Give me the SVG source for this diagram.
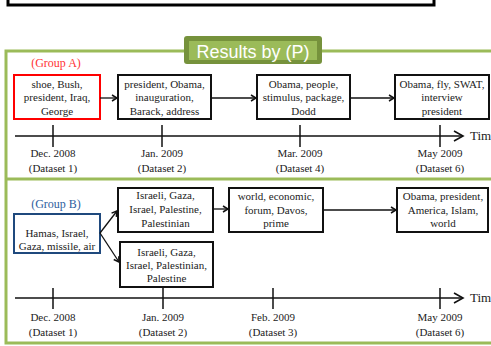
<svg xmlns="http://www.w3.org/2000/svg" width="491" height="346" viewBox="0 0 491 346">
<style>
text{font-family:"Liberation Serif","DejaVu Serif","Times New Roman",serif}
.t{font-size:11px;fill:#222;text-anchor:middle}
.box{fill:#fff;stroke:#111;stroke-width:2}
.ln{stroke:#111;stroke-width:1.3;fill:none}
.ax{stroke:#111;stroke-width:1.5;fill:none}
.tk{stroke:#111;stroke-width:1.5}
.ttl{font-family:"Liberation Sans",Arial,sans-serif;font-size:18px;fill:#fff;text-anchor:middle}
</style>
<defs>
<marker id="ah" markerWidth="8" markerHeight="8" refX="6" refY="4" orient="auto" markerUnits="userSpaceOnUse">
<path d="M1,1 L6,4 L1,7" fill="none" stroke="#111" stroke-width="1.5"/>
</marker>
<marker id="tah" markerWidth="14" markerHeight="14" refX="11" refY="7" orient="auto" markerUnits="userSpaceOnUse">
<path d="M2,2 L11,7 L2,12" fill="none" stroke="#111" stroke-width="1.6"/>
</marker>
</defs>
<rect width="491" height="346" fill="#fff"/>
<rect x="8" y="-10" width="426" height="15" fill="#fff" stroke="#000" stroke-width="3"/>
<g id="frame">
<rect x="6" y="51" width="500" height="292" fill="none" stroke="#9BBB59" stroke-width="3"/>
<line x1="6" y1="179" x2="491" y2="179" stroke="#9BBB59" stroke-width="3"/>
</g>
<g id="title">
<rect x="184" y="36" width="138" height="28" rx="3" fill="#76923C"/>
<rect x="189" y="41" width="128" height="19" fill="#9BBB59"/>
<text x="253" y="58" class="ttl">Results by (P)</text>
</g>
<g id="groupA-label"><text x="56" y="67" class="t" font-family="Liberation Serif, serif" style="font-size:12px;fill:#FF3333">(Group A)</text></g>
<g id="groupB-label"><text x="56" y="208" class="t" font-family="Liberation Serif, serif" style="font-size:12px;fill:#2E5E9E">(Group B)</text></g>
<g id="A1"><rect x="14" y="75" width="86" height="44" fill="#fff" stroke="#FF0000" stroke-width="2"/>
<text class="t" x="57" y="88">shoe, Bush,</text><text class="t" x="57" y="101">president, Iraq,</text><text class="t" x="57" y="115">George</text></g>
<g id="A2"><rect class="box" x="118" y="75" width="93" height="44"/>
<text class="t" x="164.5" y="88">president, Obama,</text><text class="t" x="164.5" y="101">inauguration,</text><text class="t" x="164.5" y="115">Barack, address</text></g>
<g id="A3"><rect class="box" x="257" y="75" width="93" height="44"/>
<text class="t" x="303.5" y="88">Obama, people,</text><text class="t" x="303.5" y="101">stimulus, package,</text><text class="t" x="303.5" y="115">Dodd</text></g>
<g id="A4"><rect class="box" x="395" y="75" width="94" height="44"/>
<text class="t" x="442" y="88">Obama, fly, SWAT,</text><text class="t" x="442" y="101">interview</text><text class="t" x="442" y="115">president</text></g>
<g id="B1"><rect x="14" y="214" width="86" height="39" fill="#fff" stroke="#1F497D" stroke-width="2"/>
<text class="t" x="57" y="237">Hamas, Israel,</text><text class="t" x="57" y="250">Gaza, missile, air</text></g>
<g id="B2"><rect class="box" x="118" y="188" width="95" height="44"/>
<text class="t" x="165.5" y="199">Israeli, Gaza,</text><text class="t" x="165.5" y="213">Israel, Palestine,</text><text class="t" x="165.5" y="227">Palestinian</text></g>
<g id="B3"><rect class="box" x="229" y="188" width="94" height="44"/>
<text class="t" x="276" y="200">world, economic,</text><text class="t" x="276" y="214">forum, Davos,</text><text class="t" x="276" y="227">prime</text></g>
<g id="B4"><rect class="box" x="397" y="188" width="91" height="44"/>
<text class="t" x="443" y="200">Obama, president,</text><text class="t" x="443" y="214">America, Islam,</text><text class="t" x="443" y="227">world</text></g>
<g id="B5"><rect class="box" x="120" y="242" width="93" height="45"/>
<text class="t" x="166.5" y="256">Israeli, Gaza,</text><text class="t" x="166.5" y="269">Israel, Palestinian,</text><text class="t" x="166.5" y="282">Palestine</text></g>
<g id="connectors">
<line class="ln" x1="100" y1="98" x2="117" y2="98" marker-end="url(#ah)"/>
<line class="ln" x1="211" y1="98" x2="256" y2="98" marker-end="url(#ah)"/>
<line class="ln" x1="350" y1="98" x2="394" y2="98" marker-end="url(#ah)"/>
<line class="ln" x1="100" y1="233" x2="117" y2="211" marker-end="url(#ah)"/>
<line class="ln" x1="100" y1="233" x2="119" y2="262" marker-end="url(#ah)"/>
<line class="ln" x1="213" y1="209" x2="228" y2="209" marker-end="url(#ah)"/>
<line class="ln" x1="323" y1="210" x2="396" y2="210" marker-end="url(#ah)"/>
</g>
<g id="timelineA">
<line class="ax" x1="15" y1="136" x2="463" y2="136" marker-end="url(#tah)"/>
<line class="tk" x1="53" y1="125" x2="53" y2="147"/>
<line class="tk" x1="162" y1="125" x2="162" y2="147"/>
<line class="tk" x1="300" y1="125" x2="300" y2="147"/>
<line class="tk" x1="440" y1="125" x2="440" y2="147"/>
<text x="470" y="140" class="t" style="font-size:13px;text-anchor:start">Time</text>
<text class="t" x="53" y="157">Dec. 2008</text><text class="t" x="53" y="172">(Dataset 1)</text>
<text class="t" x="162" y="157">Jan. 2009</text><text class="t" x="162" y="172">(Dataset 2)</text>
<text class="t" x="300" y="157">Mar. 2009</text><text class="t" x="300" y="172">(Dataset 4)</text>
<text class="t" x="440" y="157">May 2009</text><text class="t" x="440" y="172">(Dataset 6)</text>
</g>
<g id="timelineB">
<line class="ax" x1="15" y1="298" x2="463" y2="298" marker-end="url(#tah)"/>
<line class="tk" x1="53" y1="288" x2="53" y2="309"/>
<line class="tk" x1="163" y1="288" x2="163" y2="309"/>
<line class="tk" x1="273" y1="288" x2="273" y2="309"/>
<line class="tk" x1="440" y1="288" x2="440" y2="309"/>
<text x="470" y="302" class="t" style="font-size:13px;text-anchor:start">Time</text>
<text class="t" x="53" y="321">Dec. 2008</text><text class="t" x="53" y="336">(Dataset 1)</text>
<text class="t" x="163" y="321">Jan. 2009</text><text class="t" x="163" y="336">(Dataset 2)</text>
<text class="t" x="273" y="321">Feb. 2009</text><text class="t" x="273" y="336">(Dataset 3)</text>
<text class="t" x="440" y="321">May 2009</text><text class="t" x="440" y="336">(Dataset 6)</text>
</g>
</svg>
